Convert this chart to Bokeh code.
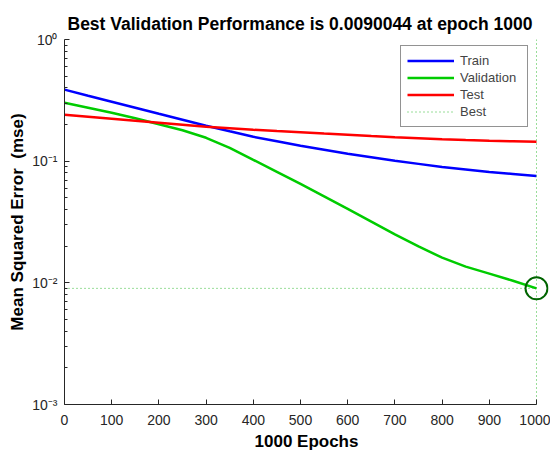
from bokeh.plotting import figure
from bokeh.models import Range1d, FixedTicker, CustomJSTickFormatter, Legend, LegendItem
from bokeh.embed import file_html
from bokeh.resources import INLINE

epochs = [0, 50, 100, 150, 200, 250, 300, 350, 400, 450, 500,
          550, 600, 650, 700, 750, 800, 850, 900, 950, 1000]
train = [0.387, 0.345, 0.308, 0.275, 0.2454, 0.219, 0.1954, 0.176, 0.1586, 0.1456, 0.1337,
         0.1239, 0.1149, 0.1075, 0.1006, 0.0950, 0.0897, 0.0856, 0.0816, 0.0786, 0.0756]
validation = [0.302, 0.275, 0.250, 0.2254, 0.2012, 0.1795, 0.1556, 0.1288, 0.1025, 0.0817, 0.0650,
              0.0513, 0.0405, 0.0318, 0.0250, 0.0199, 0.0161, 0.0136, 0.0119, 0.0104, 0.0090044]
test = [0.2407, 0.2318, 0.2232, 0.2149, 0.2069, 0.1992, 0.1918, 0.1864, 0.1811, 0.1767, 0.1727,
        0.1685, 0.1647, 0.1607, 0.1571, 0.1542, 0.1513, 0.1490, 0.1470, 0.1456, 0.1442]
best_epoch = 1000
best_perf = 0.0090044
title_text = "Best Validation Performance is 0.0090044 at epoch 1000"
x_ticks = [0, 100, 200, 300, 400, 500, 600, 700, 800, 900, 1000]
y_ticks = [0.001, 0.01, 0.1, 1.0]

FONT = "Liberation Sans"

p = figure(width=550, height=453, y_axis_type="log",
           x_range=Range1d(0, 1025.4), y_range=Range1d(1e-3, 1.0),
           output_backend="svg", toolbar_location=None,
           min_border_left=64, min_border_right=2, min_border_top=39, min_border_bottom=49)

p.title.text = title_text
p.title.align = "left"
p.title.offset = 3
p.title.text_font = FONT
p.title.text_font_size = "17.5px"
p.title.text_font_style = "bold"
p.title.text_color = "#000000"
p.title.standoff = 12

p.outline_line_color = None
p.xgrid.visible = False
p.ygrid.visible = False

r_train = p.line(epochs, train, line_color="#0000ff", line_width=2.5)
r_val = p.line(epochs, validation, line_color="#00cc00", line_width=2.5)
r_test = p.line(epochs, test, line_color="#ff0000", line_width=2.5)
r_best_h = p.line([0, best_epoch], [best_perf, best_perf], line_color="#33bb33", line_width=1, line_dash="1 3")
p.line([best_epoch, best_epoch], [1e-3, 1.0], line_color="#33bb33", line_width=1, line_dash="1 3")
p.scatter([best_epoch], [best_perf], marker="circle", size=22, fill_color=None,
          line_color="#006400", line_width=2)

minor = []
for d in [0.001, 0.01, 0.1]:
    minor += [d * k for k in range(2, 10)]
p.yaxis.ticker = FixedTicker(ticks=y_ticks, minor_ticks=minor)
p.yaxis.formatter = CustomJSTickFormatter(code="""
const e = Math.round(Math.log10(tick));
const sup = {'-':'\u207b','0':'\u2070','1':'\u00b9','2':'\u00b2','3':'\u00b3','4':'\u2074','5':'\u2075','6':'\u2076','7':'\u2077','8':'\u2078','9':'\u2079'};
return '10' + String(e).split('').map(c => sup[c]).join('');
""")
p.xaxis.ticker = FixedTicker(ticks=x_ticks)
p.xaxis.bounds = (0, 1000)

for ax in (p.xaxis[0], p.yaxis[0]):
    ax.major_tick_in = 5
    ax.major_tick_out = 0
    ax.minor_tick_in = 3
    ax.minor_tick_out = 0
    ax.axis_line_color = "#262626"
    ax.major_tick_line_color = "#262626"
    ax.minor_tick_line_color = "#262626"
    ax.major_label_text_font = FONT
    ax.major_label_text_font_size = "14px"
    ax.major_label_text_color = "#262626"
    ax.axis_label_text_font = FONT
    ax.axis_label_text_font_size = "17px"
    ax.axis_label_text_font_style = "bold"
    ax.axis_label_text_color = "#000000"
p.xaxis.minor_tick_line_color = None
p.xaxis.axis_label = "1000 Epochs"
p.yaxis.axis_label = "Mean Squared Error\u00a0 (mse)"
p.xaxis.major_label_standoff = 10
p.yaxis.major_label_standoff = 7
p.xaxis.axis_label_standoff = 4
p.yaxis.axis_label_standoff = 2

legend = Legend(items=[
    LegendItem(label="Train", renderers=[r_train]),
    LegendItem(label="Validation", renderers=[r_val]),
    LegendItem(label="Test", renderers=[r_test]),
    LegendItem(label="Best", renderers=[r_best_h]),
], location=(336, 277))
legend.margin = 0
legend.padding = 6
legend.spacing = 0
legend.glyph_width = 47
legend.glyph_height = 17
legend.label_text_font = FONT
legend.label_text_font_size = "13px"
legend.label_height = 17
legend.label_width = 61
legend.label_standoff = 6
legend.border_line_color = "#262626"
legend.border_line_width = 1
legend.background_fill_alpha = 1
p.add_layout(legend)

open("out.html", "w").write(file_html(p, INLINE))
